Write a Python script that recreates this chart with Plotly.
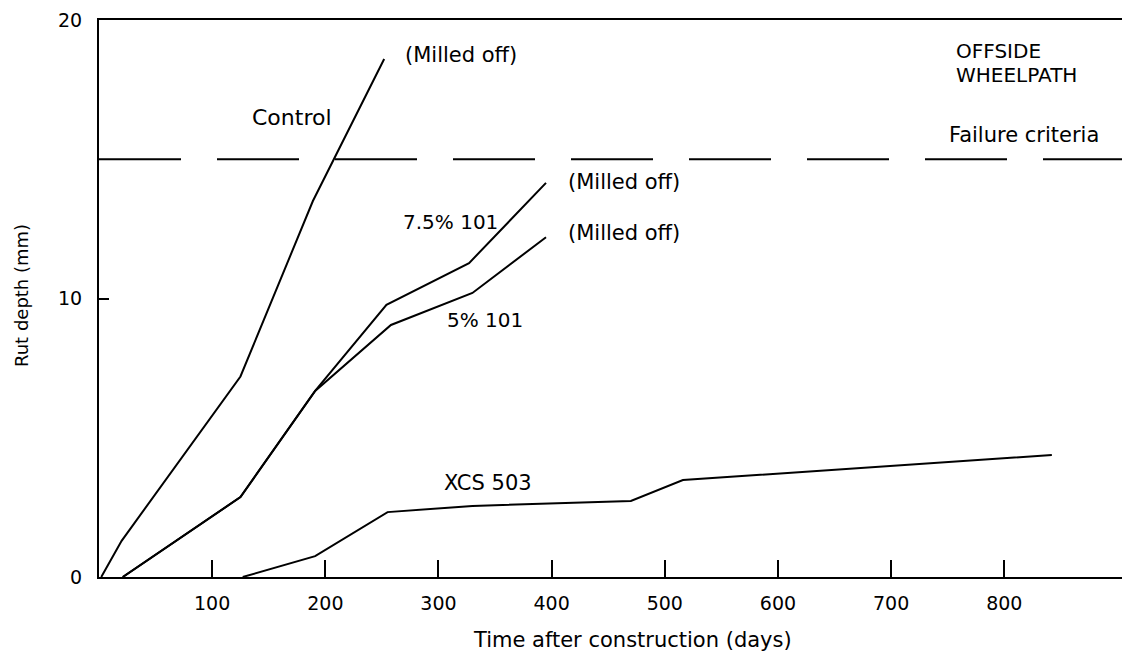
import plotly.graph_objects as go

# Data (days after construction, rut depth in mm)
control_x = [2, 20, 125, 189, 252]
control_y = [0, 1.3, 7.2, 13.5, 18.6]

p75_x = [21, 125, 191, 254, 327, 395]
p75_y = [0, 2.87, 6.68, 9.77, 11.27, 14.15]

p5_x = [21, 125, 191, 258, 330, 395]
p5_y = [0, 2.87, 6.68, 9.05, 10.2, 12.2]

xcs_x = [127, 191, 255, 330, 470, 516, 842]
xcs_y = [0, 0.75, 2.33, 2.55, 2.73, 3.48, 4.38]

failure_y = 15
x_ticks = [100, 200, 300, 400, 500, 600, 700, 800]
y_ticks = [0, 10, 20]

FONT = "DejaVu Sans"
line = dict(color="black", width=2)

# page body has an 8px margin; compensate so the plot lands where the reference has it
OFF = 8
W, H = 1130 - 2 * OFF, 665 - 2 * OFF
L, R, T, B = 99 - OFF, 0, 20 - OFF, 80
pw, ph = W - L - R, H - T - B

def px2paper(px, py):
    return (px - OFF - L) / pw, 1 - (py - OFF - T) / ph

fig = go.Figure()
for xs, ys in [(control_x, control_y), (p75_x, p75_y), (p5_x, p5_y), (xcs_x, xcs_y)]:
    fig.add_trace(go.Scatter(x=xs, y=ys, mode="lines", line=line, showlegend=False, hoverinfo="skip"))

fig.add_trace(go.Scatter(x=[0, 904], y=[failure_y, failure_y], mode="lines",
                         line=dict(color="black", width=2, dash="82px,36px"),
                         showlegend=False, hoverinfo="skip"))

# (screen pixel x, screen pixel y, text, size, xanchor)
labels = [
    (292, 117, "Control", 22, "center"),
    (461, 55, "(Milled off)", 21, "center"),
    (624, 182, "(Milled off)", 21, "center"),
    (624, 233, "(Milled off)", 21, "center"),
    (450, 222, "7.5% 101", 20, "center"),
    (485, 320, "5% 101", 20, "center"),
    (488, 483, "XCS 503", 21, "center"),
    (1024, 135, "Failure criteria", 21, "center"),
    (954, 51, "OFFSIDE", 20, "left"),
    (954, 75, "WHEELPATH", 20, "left"),
]
anns = []
for px, py, txt, sz, xa in labels:
    x, y = px2paper(px, py)
    anns.append(dict(x=x, y=y, xref="paper", yref="paper", text=txt,
                     showarrow=False, font=dict(family=FONT, size=sz, color="black"),
                     xanchor=xa, yanchor="middle"))
# axis titles
x, y = px2paper(632, 640)
anns.append(dict(x=x, y=y, xref="paper", yref="paper",
                 text="Time after construction (days)", showarrow=False,
                 font=dict(family=FONT, size=21, color="black"), xanchor="center", yanchor="middle"))
x, y = px2paper(22, 296)
anns.append(dict(x=x, y=y, xref="paper", yref="paper",
                 text="Rut depth (mm)", showarrow=False, textangle=-90,
                 font=dict(family=FONT, size=18, color="black"), xanchor="center", yanchor="middle"))

fig.update_layout(
    width=W, height=H,
    margin=dict(l=L, r=R, t=T, b=B, autoexpand=False),
    paper_bgcolor="white", plot_bgcolor="white",
    annotations=anns,
    font=dict(family=FONT, size=19, color="black"),
    xaxis=dict(range=[0, 904], tickvals=x_ticks, ticks="inside", ticklen=17, tickwidth=2,
               tickcolor="black", showline=True, linecolor="black", linewidth=2, mirror=True,
               showgrid=False, zeroline=False, automargin=False, ticklabelstandoff=8,
               tickfont=dict(family=FONT, size=19)),
    yaxis=dict(range=[0, 20], tickvals=y_ticks, ticks="inside", ticklen=10, tickwidth=2,
               tickcolor="black", showline=True, linecolor="black", linewidth=2, mirror=True,
               showgrid=False, zeroline=False, automargin=False, ticklabelstandoff=11,
               tickfont=dict(family=FONT, size=19)),
)

fig.write_html("out.html")
